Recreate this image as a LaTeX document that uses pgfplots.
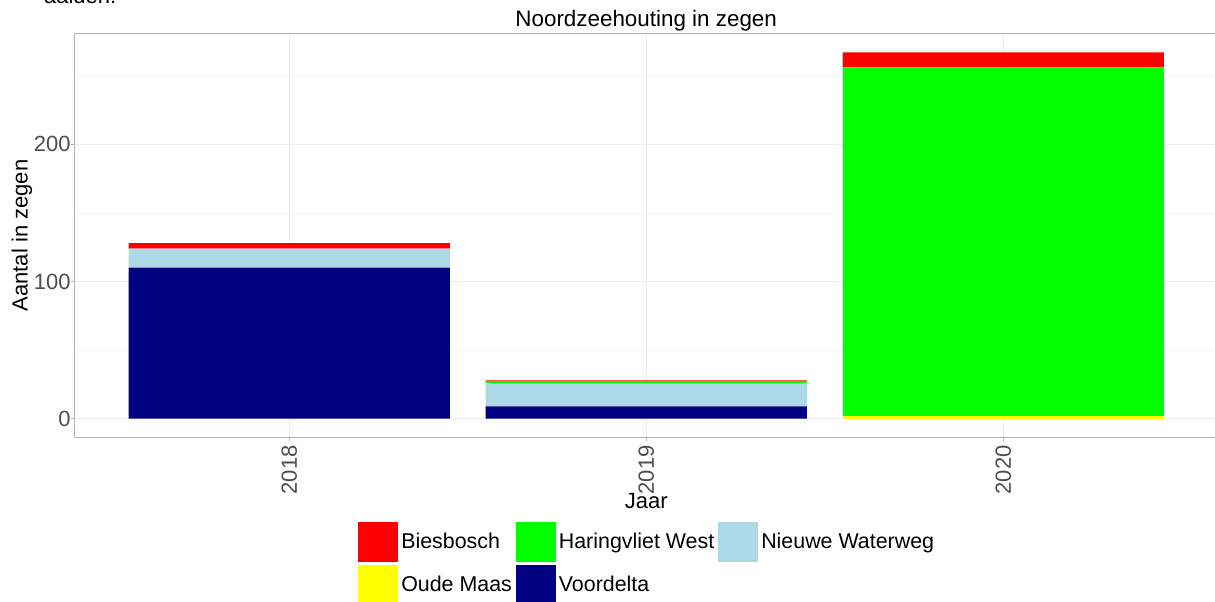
\documentclass[border=0pt]{standalone}
\usepackage{pgfplots}
\pgfplotsset{compat=1.18}
\usetikzlibrary{calc}
\usepackage{fontspec}
\setmainfont{Liberation Sans}

\definecolor{bies}{HTML}{FF0000}
\definecolor{haring}{HTML}{00FF00}
\definecolor{nieuwe}{HTML}{ADD8E6}
\definecolor{oude}{HTML}{FFFF00}
\definecolor{voor}{HTML}{000080}
\definecolor{txtgrey}{HTML}{4D4D4D}

\begin{document}
\begin{tikzpicture}
\begin{axis}[
  name=ax,
  scale only axis,
  width=571.2pt, height=201.5pt,
  ybar stacked, bar width=0.9,
  xmin=0.4, xmax=3.6,
  ymin=-13.35, ymax=280.35,
  xtick={1,2,3}, xticklabels={2018,2019,2020},
  ytick={0,100,200}, minor ytick={50,150,250},
  grid=both,
  major grid style={gray!15, line width=0.5pt},
  minor grid style={gray!8, line width=0.3pt},
  axis line style={gray!60, line width=0.5pt},
  tick style={gray!60, line width=0.5pt},
  major tick length=2pt, minor tick length=0pt,
  tick align=outside, xtick pos=bottom, ytick pos=left,
  /pgf/number format/assume math mode=true,
  tick label style={font=\fontsize{11}{13}\selectfont, text=txtgrey},
  yticklabel style={inner sep=0pt},
  xticklabel style={rotate=90, anchor=east, inner sep=2pt},
  title={Noordzeehouting in zegen},
  title style={at={(axis description cs:0.5,1)}, anchor=base, yshift=-2.3pt,
    font=\fontsize{11.2}{13}\selectfont},
  xlabel={Jaar},
  xlabel style={at={(axis description cs:0.5,0)}, anchor=base, yshift=-35.5pt,
    font=\fontsize{11}{13}\selectfont},
  ylabel={Aantal in zegen},
  ylabel style={at={(axis description cs:0,0.5)}, anchor=center, yshift=26.5pt,
    font=\fontsize{11}{13}\selectfont},
  legend columns=3,
  legend cell align=left,
  legend image code/.code={\fill[#1] (0pt,-10pt) rectangle (20pt,10pt);},
  legend style={at={(axis description cs:0.5,0)}, anchor=north, yshift=-42.5pt,
    draw=none, fill=none, inner sep=0pt, row sep=1.5pt,
    font=\fontsize{10.7}{13}\selectfont,
    nodes={inner sep=0pt},
    /tikz/every odd column/.append style={column sep=1.5pt},
    /tikz/every even column/.append style={column sep=2pt}},
  legend entries={Biesbosch, Haringvliet West, Nieuwe Waterweg, Oude Maas, Voordelta},
]
\addlegendimage{fill=bies, draw=none}
\addlegendimage{fill=haring, draw=none}
\addlegendimage{fill=nieuwe, draw=none}
\addlegendimage{fill=oude, draw=none}
\addlegendimage{fill=voor, draw=none}
% bottom to top: Voordelta, Oude Maas, Nieuwe Waterweg, Haringvliet West, Biesbosch
\addplot[fill=voor, draw=none] coordinates {(1,110) (2,9) (3,0)};
\addplot[fill=oude, draw=none] coordinates {(1,0) (2,0) (3,2)};
\addplot[fill=nieuwe, draw=none] coordinates {(1,14) (2,17) (3,0)};
\addplot[fill=haring, draw=none] coordinates {(1,0) (2,1) (3,254)};
\addplot[fill=bies, draw=none] coordinates {(1,4) (2,1) (3,11)};
\end{axis}
\node[anchor=base west, font=\fontsize{11}{13}\selectfont]
  at ($(ax.north west)+(-19pt,15.2pt)$) {aalden:};
\pgfresetboundingbox
\path[use as bounding box] ($(ax.south west)+(-37.5pt,-82pt)$)
  rectangle ($(ax.north east)+(-1.2pt,17pt)$);
\end{tikzpicture}
\end{document}
